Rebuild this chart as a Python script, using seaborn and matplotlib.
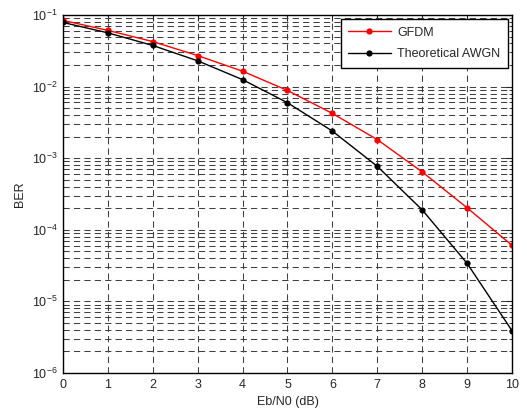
import numpy as np
import pandas as pd
import matplotlib
matplotlib.use("Agg")
import matplotlib.pyplot as plt
import matplotlib.ticker as mticker
import seaborn as sns

ebn0 = [0, 1, 2, 3, 4, 5, 6, 7, 8, 9, 10]
ber_gfdm = [0.084, 0.061, 0.0425, 0.0271, 0.0164, 0.00883, 0.00422, 0.00182, 0.000644, 0.000203, 6.07e-5]
ber_awgn = [0.0786, 0.0563, 0.0375, 0.0229, 0.0125, 0.00595, 0.00239, 0.00077, 0.00019, 3.4e-5, 3.9e-6]
series_names = ["GFDM", "Theoretical AWGN"]
series_colors = ["#ff0000", "#000000"]

df = pd.DataFrame({
    "Eb/N0 (dB)": ebn0 * 2,
    "BER": ber_gfdm + ber_awgn,
    "series": [series_names[0]] * len(ebn0) + [series_names[1]] * len(ebn0),
})

sns.set_style("white")
plt.rcParams["font.family"] = ["Liberation Sans", "DejaVu Sans"]
plt.rcParams["mathtext.fontset"] = "custom"
plt.rcParams["mathtext.rm"] = "Liberation Sans"
plt.rcParams["mathtext.it"] = "Liberation Sans"

fig = plt.figure(figsize=(5.27, 4.15), dpi=100)
ax = fig.add_axes([0.1195, 0.1012, 0.852, 0.8627])

sns.lineplot(data=df, x="Eb/N0 (dB)", y="BER", hue="series",
             palette=dict(zip(series_names, series_colors)),
             marker="o", markersize=4.5, markeredgewidth=0, linewidth=1.0,
             ax=ax, legend=True)

ax.set_yscale("log")
ax.set_xlim(0, 10)
ax.set_ylim(1e-6, 1e-1)
ax.set_xticks(range(0, 11))
ax.yaxis.set_major_locator(mticker.LogLocator(base=10, numticks=10))
ax.yaxis.set_minor_locator(mticker.LogLocator(base=10, subs=np.arange(2, 10), numticks=20))
ax.yaxis.set_minor_formatter(mticker.NullFormatter())

grid_kw = dict(color="#404040", linestyle=(0, (6, 4)), linewidth=0.75)
ax.grid(True, which="major", axis="both", **grid_kw)
ax.grid(True, which="minor", axis="y", **grid_kw)

ax.tick_params(which="both", direction="in", top=True, right=True, labelsize=9, pad=4)
ax.tick_params(which="major", length=4, width=0.8)
ax.tick_params(which="minor", length=2.5, width=0.6)
for s in ax.spines.values():
    s.set_color("black")
    s.set_linewidth(1.0)

ax.set_xlabel("Eb/N0 (dB)", fontsize=9)
ax.set_ylabel("BER", fontsize=9)

leg = ax.legend(loc="upper right", fontsize=9, frameon=True, fancybox=False,
                edgecolor="black", framealpha=1, borderaxespad=0.35,
                handlelength=3.4, handletextpad=0.5, labelspacing=0.75,
                borderpad=0.6)
leg.get_frame().set_linewidth(1.0)

fig.savefig("out.png", dpi=100)
